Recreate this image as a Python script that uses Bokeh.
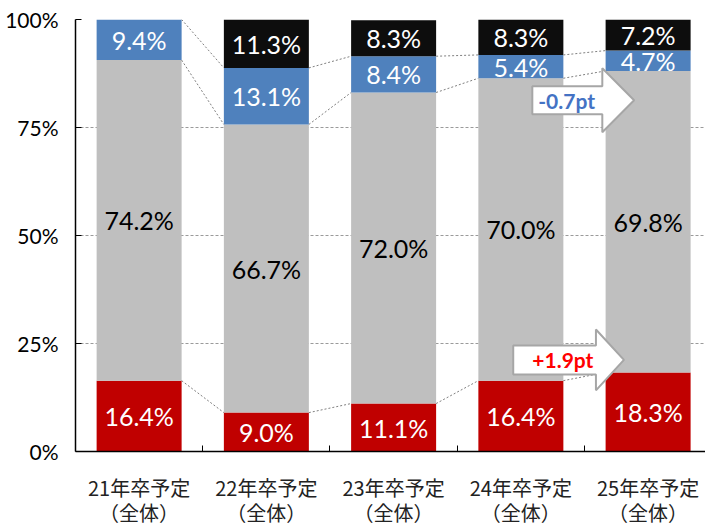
from bokeh.plotting import figure
from bokeh.models import Range1d, FixedTicker, LinearAxis, ColumnDataSource
from bokeh.core.properties import value
from bokeh.embed import file_html
from bokeh.resources import INLINE

# ---- data ----
categories = ["21年卒予定", "22年卒予定", "23年卒予定", "24年卒予定", "25年卒予定"]
sub_label = "（全体）"
red_vals = [16.4, 9.0, 11.1, 16.4, 18.3]
gray_vals = [74.2, 66.7, 72.0, 70.0, 69.8]
blue_vals = [9.4, 13.1, 8.4, 5.4, 4.7]
black_vals = [0.0, 11.3, 8.3, 8.3, 7.2]
y_ticks = [0, 25, 50, 75, 100]
y_tick_labels = ["0%", "25%", "50%", "75%", "100%"]
change_labels = ["-0.7pt", "+1.9pt"]

# ---- styles ----
RED = "#C00000"
GRAY = "#BFBFBF"
BLUE = "#4F81BD"
BLACK = "#0D0D0D"
NUM_FONT = "Lato"
CJK_FONT = "Noto Sans CJK JP"
BAR_W = 0.668

n = len(categories)
xs = list(range(n))

series = [red_vals, gray_vals, blue_vals, black_vals]
colors = [RED, GRAY, BLUE, BLACK]
text_colors = ["white", "black", "white", "white"]

p = figure(width=705, height=529, output_backend="svg", toolbar_location=None,
           x_range=Range1d(-0.5, 4.451), y_range=Range1d(0, 100),
           min_border_left=75, min_border_right=0, min_border_top=19,
           min_border_bottom=77, x_axis_location=None, y_axis_location=None)
p.outline_line_color = None
p.background_fill_color = "white"
p.border_fill_color = "white"

# grid
p.xgrid.visible = False
p.ygrid.ticker = FixedTicker(ticks=y_ticks)
p.ygrid.grid_line_color = "#9A9A9A"
p.ygrid.grid_line_dash = "3 2"
p.ygrid.grid_line_width = 1

# stacked bars
bottoms = [0.0] * n
cum_levels = []
for vals, col, tcol in zip(series, colors, text_colors):
    tops = [b + v for b, v in zip(bottoms, vals)]
    src = ColumnDataSource(dict(x=xs, bottom=bottoms, top=[min(t, 100) for t in tops]))
    p.vbar(x="x", bottom="bottom", top="top", width=BAR_W, source=src,
           fill_color=col, line_color=None)
    lx, ly, lt = [], [], []
    for i, v in enumerate(vals):
        if v > 0:
            lx.append(i)
            ly.append((bottoms[i] + min(tops[i], 100)) / 2)
            lt.append(f"{v:.1f}%")
    p.text(x=lx, y=ly, text=lt, text_color=tcol, text_align="center",
           text_baseline="middle", text_font=value(NUM_FONT), text_font_size="25px")
    cum_levels.append([min(t, 100) for t in tops])
    bottoms = tops

# connector lines (top of red, gray, blue)
for lvl in cum_levels[:3]:
    p.segment(x0=[i + BAR_W / 2 for i in range(n - 1)],
              y0=lvl[:-1],
              x1=[i + 1 - BAR_W / 2 for i in range(n - 1)],
              y1=lvl[1:], line_color="#808080", line_dash="2 2", line_width=1)

# change arrows (annotations)
arrows = [
    dict(x0=3.09, xb=3.64, xt=3.89, yc=81.3, bh=3.25, hh=7.4, label=change_labels[0], color="#4472C4", tx=3.36),
    dict(x0=2.94, xb=3.59, xt=3.81, yc=21.2, bh=3.35, hh=7.05, label=change_labels[1], color="#FF0000", tx=3.33),
]
for a in arrows:
    px = [a["x0"], a["xb"], a["xb"], a["xt"], a["xb"], a["xb"], a["x0"]]
    py = [a["yc"] + a["bh"], a["yc"] + a["bh"], a["yc"] + a["hh"], a["yc"],
          a["yc"] - a["hh"], a["yc"] - a["bh"], a["yc"] - a["bh"]]
    p.patch(px, py, fill_color="white", line_color="#A6A6A6", line_width=2)
    p.text(x=[a["tx"]], y=[a["yc"]], text=[a["label"]], text_color=a["color"],
           text_font=value(NUM_FONT), text_font_style="bold", text_font_size="21px",
           text_align="center", text_baseline="middle")

# y axis
yax = LinearAxis(ticker=FixedTicker(ticks=y_ticks, minor_ticks=[]))
yax.major_label_overrides = {t: l for t, l in zip(y_ticks, y_tick_labels)}
yax.axis_line_color = "black"
yax.axis_line_width = 1.5
yax.major_tick_in = 6
yax.major_tick_out = 0
yax.major_tick_line_color = "black"
yax.minor_tick_line_color = None
yax.major_label_standoff = 17
yax.major_label_text_font = NUM_FONT
yax.major_label_text_font_size = "21px"
yax.major_label_text_color = "black"
p.add_layout(yax, "left")

# x axis: line 1
xax = LinearAxis(ticker=FixedTicker(ticks=xs, minor_ticks=[i + 0.5 for i in range(n - 1)]))
xax.major_label_overrides = {i: c for i, c in enumerate(categories)}
xax.axis_line_color = "black"
xax.axis_line_width = 1.5
xax.major_tick_line_color = None
xax.minor_tick_line_color = "black"
xax.minor_tick_in = 6
xax.minor_tick_out = 0
xax.major_label_standoff = 15
xax.major_label_text_font = CJK_FONT
xax.major_label_text_font_size = "20px"
xax.major_label_text_color = "#222222"
p.add_layout(xax, "below")

# x axis: line 2
xax2 = LinearAxis(ticker=FixedTicker(ticks=xs, minor_ticks=[]))
xax2.major_label_overrides = {i: sub_label for i in xs}
xax2.axis_line_color = None
xax2.major_tick_line_color = None
xax2.minor_tick_line_color = None
xax2.major_label_standoff = -13
xax2.major_label_text_font = CJK_FONT
xax2.major_label_text_font_size = "20px"
xax2.major_label_text_color = "#222222"
p.add_layout(xax2, "below")

open("out.html", "w").write(file_html(p, INLINE))
